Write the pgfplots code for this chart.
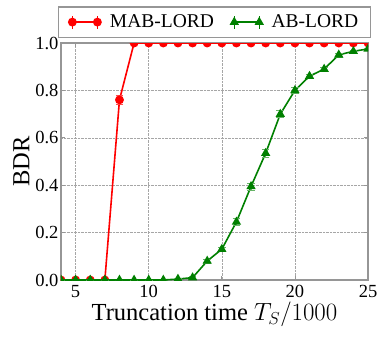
\documentclass[border=0pt]{standalone}
\usepackage{fontspec}
\setmainfont{Liberation Serif}
\usepackage{pgfplots}
\pgfplotsset{compat=1.18}
\definecolor{mred}{RGB}{255,0,0}
\definecolor{mgreen}{RGB}{0,128,0}
\definecolor{frame}{RGB}{150,150,150}
\begin{document}
\begin{tikzpicture}
\useasboundingbox (-61pt,-58pt) rectangle (322pt,280pt);
\begin{axis}[
  at={(0pt,0pt)}, anchor=south west,
  scale only axis,
  width=307pt, height=237pt,
  xmin=4, xmax=25, ymin=0, ymax=1,
  xtick={5,10,15,20,25},
  xticklabels={5,10,15,20,25},
  ytick={0,0.2,0.4,0.6,0.8,1.0},
  yticklabels={0.0,0.2,0.4,0.6,0.8,1.0},
  yticklabel style={xshift=1pt},
  xticklabel style={yshift=-2pt},
  ticklabel style={font=\rmfamily\fontsize{18.5}{20}\selectfont},
  grid=major,
  major grid style={densely dotted, gray!70, line width=0.6pt},
  axis line style={frame, line width=1.4pt},
  tick style={frame, line width=0.8pt},
  tick align=inside,
  major tick length=4pt,
  clip marker paths=true,
  xlabel={Truncation time $T_S/1000$},
  ylabel={BDR},
  label style={font=\fontsize{24.5}{27}\selectfont},
  xlabel style={yshift=3pt},
  ylabel style={yshift=-1pt},
  legend columns=2,
  legend style={at={(0.5,1.0)}, anchor=south, yshift=5pt, draw=frame, line width=1.4pt,
    font=\fontsize{19.5}{21}\selectfont, inner xsep=10pt, inner ysep=6pt,
    /tikz/every odd column/.append style={column sep=7pt},
    /tikz/every even column/.append style={column sep=15pt}},
  legend image code/.code={
    \draw[#1,mark=none,line width=0.8pt] (0pt,-6.5pt) -- (0pt,6.5pt);
    \draw[#1,mark=none,line width=0.8pt] (25pt,-6.5pt) -- (25pt,6.5pt);
    \draw[#1] plot coordinates {(0pt,0pt) (25pt,0pt)};
  },
]
\addplot[mred, line width=1.6pt, mark=*, mark size=3.6pt,
  error bars/.cd, y dir=both, y explicit, error bar style={mred!70, line width=0.8pt}]
  coordinates {
  (4,0) +- (0,0) (5,0) +- (0,0) (6,0) +- (0,0) (7,0) +- (0,0)
  (8,0.76) +- (0,0.02) (9,1.0) +- (0,0) (10,1.0) +- (0,0) (11,1.0) +- (0,0)
  (12,1.0) +- (0,0) (13,1.0) +- (0,0) (14,1.0) +- (0,0) (15,1.0) +- (0,0)
  (16,1.0) +- (0,0) (17,1.0) +- (0,0) (18,1.0) +- (0,0) (19,1.0) +- (0,0)
  (20,1.0) +- (0,0) (21,1.0) +- (0,0) (22,1.0) +- (0,0) (23,1.0) +- (0,0)
  (24,1.0) +- (0,0) (25,1.0) +- (0,0)
  };
\addlegendentry{MAB-LORD}
\addplot[mgreen, line width=1.6pt, mark=triangle*, mark size=3.8pt,
  error bars/.cd, y dir=both, y explicit, error bar style={mgreen!60, line width=0.8pt}]
  coordinates {
  (4,0) +- (0,0) (5,0) +- (0,0) (6,0) +- (0,0) (7,0) +- (0,0)
  (8,0) +- (0,0) (9,0) +- (0,0) (10,0) +- (0,0) (11,0) +- (0,0)
  (12,0.004) +- (0,0.003) (13,0.01) +- (0,0.004) (14,0.08) +- (0,0.008)
  (15,0.13) +- (0,0.01) (16,0.245) +- (0,0.015) (17,0.395) +- (0,0.015)
  (18,0.535) +- (0,0.015) (19,0.70) +- (0,0.015) (20,0.80) +- (0,0.012)
  (21,0.86) +- (0,0.01) (22,0.89) +- (0,0.01) (23,0.95) +- (0,0.008)
  (24,0.965) +- (0,0.006) (25,0.975) +- (0,0.005)
  };
\addlegendentry{AB-LORD}
\end{axis}
\end{tikzpicture}
\end{document}
